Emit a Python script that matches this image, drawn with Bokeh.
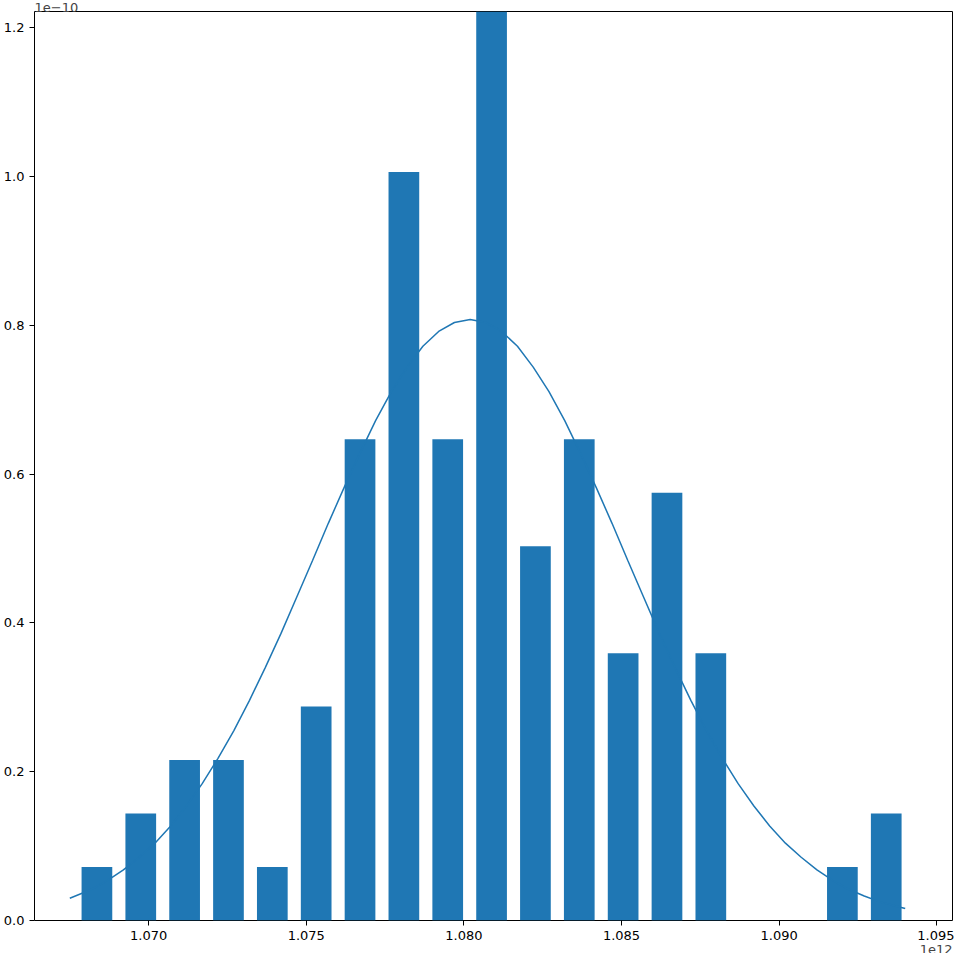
from bokeh.plotting import figure
from bokeh.models import Range1d, FixedTicker, NumeralTickFormatter, Title
from bokeh.embed import file_html
from bokeh.resources import INLINE

# histogram (x in units of 1e12, density in units of 1e-10)
bin_centers = [1.06836 + i * 0.001391 for i in range(19)]
counts = [1, 2, 3, 3, 1, 4, 9, 14, 9, 17, 7, 9, 5, 8, 5, 0, 0, 1, 2]
bin_width = 0.001391

# fitted normal curve
curve_x = [1.0675, 1.0682, 1.0687, 1.0692, 1.0697, 1.0702, 1.0707, 1.0712, 1.0717, 1.0722,
           1.0727, 1.0732, 1.0737, 1.0742, 1.0747, 1.0752, 1.0757, 1.0762, 1.0767, 1.0772,
           1.0777, 1.0782, 1.0787, 1.0792, 1.0797, 1.0802, 1.0807, 1.0812, 1.0817, 1.0822,
           1.0827, 1.0832, 1.0837, 1.0842, 1.0847, 1.0852, 1.0857, 1.0862, 1.0867, 1.0872,
           1.0877, 1.0882, 1.0887, 1.0892, 1.0897, 1.0902, 1.0907, 1.0912, 1.0917, 1.0922,
           1.0927, 1.0932, 1.0940]
curve_y = [0.030, 0.042, 0.054, 0.068, 0.085, 0.104, 0.127, 0.154, 0.184, 0.218,
           0.255, 0.296, 0.340, 0.386, 0.435, 0.484, 0.534, 0.582, 0.628, 0.672,
           0.711, 0.744, 0.772, 0.792, 0.804, 0.808, 0.804, 0.792, 0.772, 0.744,
           0.711, 0.672, 0.628, 0.582, 0.534, 0.484, 0.435, 0.386, 0.340, 0.296,
           0.255, 0.218, 0.184, 0.154, 0.127, 0.104, 0.085, 0.068, 0.054, 0.042,
           0.033, 0.025, 0.016]

n = sum(counts)
density = [c / (n * bin_width * 1e12) * 1e10 for c in counts]

p = figure(width=954, height=953, output_backend="svg", toolbar_location=None,
           x_range=Range1d(1.06638, 1.0955), y_range=Range1d(0, max(density)),
           min_border_left=24, min_border_right=2, min_border_top=0, min_border_bottom=0)

p.vbar(x=bin_centers, top=density, width=bin_width * 0.7, color="#1f77b4", line_color=None)
p.line(curve_x, curve_y, line_color="#1f77b4", line_width=1.5)

p.xgrid.visible = False
p.ygrid.visible = False
p.outline_line_color = "black"
p.xaxis.ticker = FixedTicker(ticks=[1.070, 1.075, 1.080, 1.085, 1.090, 1.095])
p.yaxis.ticker = FixedTicker(ticks=[0, 0.2, 0.4, 0.6, 0.8, 1.0, 1.2])
p.xaxis.formatter = NumeralTickFormatter(format="0.000")
p.yaxis.formatter = NumeralTickFormatter(format="0.0")
for ax in (p.xaxis, p.yaxis):
    ax.minor_tick_line_color = None
    ax.major_tick_out = 5
    ax.major_tick_in = 0
    ax.major_label_text_font = "DejaVu Sans"
    ax.major_label_text_font_size = "13px"
    ax.major_label_text_color = "black"
    ax.axis_line_color = None
    ax.major_tick_line_color = "black"

p.add_layout(Title(text="1e\u221210", align="left", text_font="DejaVu Sans",
                   text_font_size="13px", text_font_style="normal", standoff=0), "above")
p.add_layout(Title(text="1e12", align="right", text_font="DejaVu Sans",
                   text_font_size="13px", text_font_style="normal", standoff=0), "below")

open("out.html", "w").write(file_html(p, INLINE))
